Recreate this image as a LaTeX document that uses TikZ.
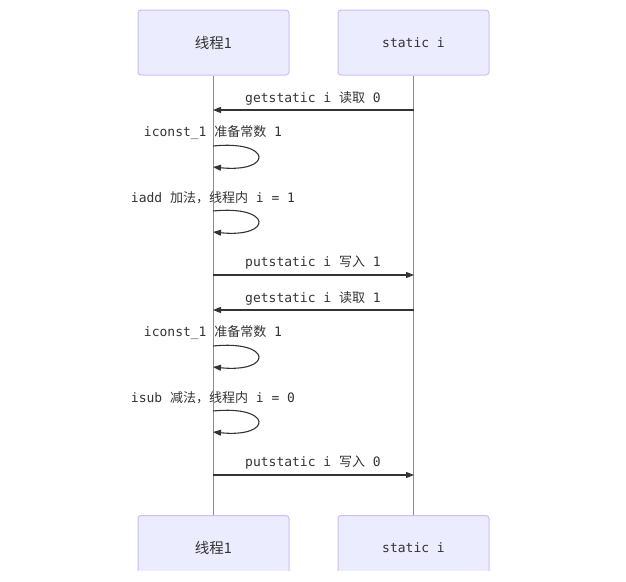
\documentclass[tikz,border=0pt]{standalone}
\usepackage{fontspec}
\setmainfont{DejaVu Sans Mono}
\newfontfamily\cjk{Noto Sans CJK SC}
\usetikzlibrary{arrows.meta,positioning,calc}

\definecolor{actfill}{HTML}{ECECFF}
\definecolor{actline}{HTML}{C9C0F2}
\definecolor{lifegray}{HTML}{8C8C8C}
\definecolor{txtgray}{HTML}{333333}

\begin{document}
\begin{tikzpicture}[
  x=1pt, y=-1pt,
  actor/.style={draw=actline, line width=1pt, fill=actfill, rounded corners=3pt, minimum width=151pt,
    minimum height=65pt, inner sep=0pt, font=\fontsize{13}{15}\selectfont, text=txtgray},
  life/.style={draw=lifegray, line width=0.9pt},
  msg/.style={-{Triangle[length=8pt,width=6pt]}, draw=txtgray, line width=1.1pt},
  lab/.style={font=\fontsize{13}{15}\selectfont, text=txtgray, inner sep=0pt},
]
\useasboundingbox (0,0) rectangle (626,581);

% --- Actors (top) ---
\node[actor] (t1)  at (213.5,42.5) {{\cjk\fontsize{14.5}{16}\selectfont 线程1}};
\node[actor] (si)  at (413.5,42.5) {static i};

% --- Actors (bottom, cut off by the page edge) ---
\begin{scope}
  \clip (0,0) rectangle (626,570);
  \node[actor, minimum height=70pt, anchor=north] (t1b) at (213.5,515) {};
  \node[actor, minimum height=70pt, anchor=north] (sib) at (413.5,515) {};
\end{scope}
\node[lab] at (213.5,548) {{\cjk\fontsize{14.5}{16}\selectfont 线程1}};
\node[lab] at (413.5,548) {static i};

% --- Lifelines ---
\draw[life] (t1.south) -- (t1b.north);
\draw[life] (si.south) -- (sib.north);

% --- Points on the lifelines ---
\coordinate (a1) at (213,110); \coordinate (b1) at (414,110);
\coordinate (a2) at (213,146); \coordinate (a3) at (213,167);
\coordinate (a4) at (213,211); \coordinate (a5) at (213,232);
\coordinate (a6) at (213,275); \coordinate (b6) at (414,275);
\coordinate (a7) at (213,310); \coordinate (b7) at (414,310);
\coordinate (a8) at (213,346); \coordinate (a9) at (213,367);
\coordinate (a10) at (213,411); \coordinate (a11) at (213,432);
\coordinate (a12) at (213,475); \coordinate (b12) at (414,475);

% --- Messages ---
\draw[msg] (b1) -- (a1);
\node[lab] at (313,98) {getstatic i {\cjk 读取} 0};

\draw[msg] (a2) .. controls ++(60,-6) and ++(60,6) .. (a3);
\node[lab] at (213,133) {iconst\_1 {\cjk 准备常数} 1};

\draw[msg] (a4) .. controls ++(60,-6) and ++(60,6) .. (a5);
\node[lab] at (213,198) {iadd {\cjk 加法，线程内} i = 1};

\draw[msg] (a6) -- (b6);
\node[lab] at (313,263) {putstatic i {\cjk 写入} 1};

\draw[msg] (b7) -- (a7);
\node[lab] at (313,298) {getstatic i {\cjk 读取} 1};

\draw[msg] (a8) .. controls ++(60,-6) and ++(60,6) .. (a9);
\node[lab] at (213,333) {iconst\_1 {\cjk 准备常数} 1};

\draw[msg] (a10) .. controls ++(60,-6) and ++(60,6) .. (a11);
\node[lab] at (213,398) {isub {\cjk 减法，线程内} i = 0};

\draw[msg] (a12) -- (b12);
\node[lab] at (313,463) {putstatic i {\cjk 写入} 0};
\end{tikzpicture}
\end{document}
